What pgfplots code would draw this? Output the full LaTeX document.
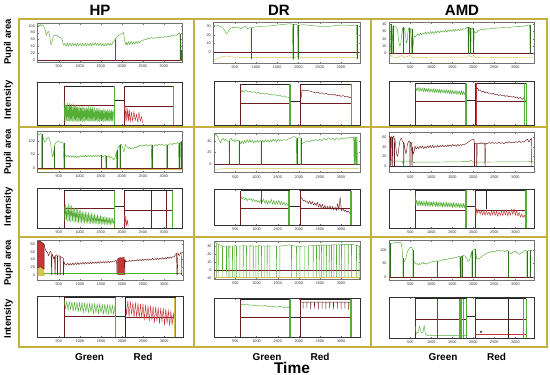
\documentclass[border=0pt]{standalone}
\usepackage{fontspec}
\setmainfont{Liberation Sans}
\usepackage{pgfplots}
\pgfplotsset{compat=1.18}
\definecolor{gold}{RGB}{196,176,64}
\definecolor{lgreen}{RGB}{85,175,55}
\definecolor{dgreen}{RGB}{45,110,25}
\definecolor{dred}{RGB}{110,30,30}
\definecolor{tred}{RGB}{195,55,55}
\definecolor{yel}{RGB}{215,195,80}
\pgfplotsset{
  base/.style={scale only axis, anchor=north west, xmin=0, xmax=3450,
    xtick={500,1000,1500,2000,2500,3000},
    axis line style={draw=black!55, line width=0.5pt},
    tick style={draw=black!55, line width=0.3pt},
    major tick length=1.5pt,
    tick label style={font=\fontsize{3.8}{4}\selectfont, text=black!80},
    /pgf/number format/1000 sep={},
    /pgf/number format/assume math mode=true,
    xticklabel style={yshift=0.8pt},
    yticklabel style={xshift=0.8pt},
    unbounded coords=jump,
    every axis plot/.append style={line width=0.45pt, line join=round}},
  pup/.style={base, width=145pt},
  int/.style={base, width=145pt, ymin=0, ymax=1, ytick=\empty,
    axis line style={draw=black!80, line width=0.6pt}},
  nox/.style={xticklabels={}},
}
\newcommand{\istruct}[8]{%
  \addplot[dred] coordinates {(#1,#7)(#2,#7)};
  \addplot[dred] coordinates {(#3,#8)(#4,#8)};
  \addplot[black!85, line width=0.6pt] coordinates {(#1,#5)(#2,#5)(#2,#6)(#3,#6)(#3,#5)(#4,#5)};
  \addplot[dred, line width=0.55pt] coordinates {(#1,0)(#1,#5)(#1,nan)(#3,0)(#3,#5)};
  \addplot[lgreen, line width=0.55pt] coordinates {(#2,0)(#2,#5)(#2,nan)(#4,0)(#4,#5)};
}
\begin{document}
\begin{tikzpicture}[x=1pt,y=1pt]
\useasboundingbox (0,0) rectangle (550,-375);

% ================= ROW 1 =================
% HP pupil
\begin{axis}[pup, at={(37.7pt,-23pt)}, height=39pt, ymin=-5, ymax=108, ytick={0,20,40,60,80,100}]
\addplot[dred] coordinates {(0,0)(3430,0)};
\addplot[lgreen] coordinates {(0,102)(30,98)(60,104)(90,100)(120,103)(150,97)(180,88)(200,72)(220,76)(250,84)(270,80)(290,66)(310,48)(330,46)(350,58)(370,70)(400,74)(430,71)(460,72)(490,68)(520,67)(550,65)(580,62)(600,50)(620,44)(650,49)(680,41)(710,50)(740,42)(770,50)(800,41)(830,49)(860,42)(890,50)(920,41)(950,49)(980,42)(1010,50)(1040,41)(1070,49)(1100,42)(1130,50)(1160,41)(1190,49)(1220,42)(1250,50)(1280,42)(1310,50)(1340,43)(1370,51)(1400,43)(1430,50)(1460,42)(1490,50)(1520,42)(1550,49)(1580,41)(1610,49)(1640,42)(1670,50)(1700,43)(1730,49)(1760,44)(1790,52)(1820,56)(1845,62)(1850,0)(1855,0)(1860,64)(1890,68)(1930,72)(1970,75)(2010,78)(2040,81)(2055,70)(2070,56)(2090,46)(2110,52)(2130,44)(2160,54)(2190,45)(2220,55)(2250,46)(2280,54)(2310,47)(2340,55)(2370,48)(2400,55)(2430,50)(2460,57)(2500,56)(2540,62)(2580,60)(2620,64)(2660,62)(2700,66)(2740,63)(2780,66)(2820,64)(2860,67)(2900,65)(2940,68)(2980,66)(3020,69)(3060,67)(3100,70)(3140,68)(3180,72)(3220,70)(3260,74)(3300,72)(3340,76)(3370,80)(3385,74)(3390,0)(3400,0)(3405,30)(3410,0)(3420,20)(3425,0)};
\addplot[dgreen] coordinates {(1852,0)(1852,60)(1852,nan)(3390,0)(3390,76)(3390,nan)(3405,0)(3405,30)(3405,nan)(3420,0)(3420,22)};
\end{axis}
% HP intensity
\begin{axis}[int, nox, at={(37.7pt,-82pt)}, height=43pt]
\istruct{623}{1821}{2060}{3234}{0.9}{0.58}{0.47}{0.44}
\addplot[lgreen] coordinates {(628,0.55)(640,0.1)(655,0.5)(668,0.08)(680,0.46)(693,0.1)(705,0.52)(718,0.08)(730,0.44)(743,0.1)(755,0.5)(768,0.08)(780,0.45)(793,0.1)(805,0.48)(818,0.07)(830,0.42)(843,0.1)(855,0.5)(868,0.08)(880,0.44)(893,0.1)(905,0.47)(918,0.08)(930,0.42)(943,0.1)(955,0.46)(968,0.07)(980,0.4)(993,0.1)(1005,0.45)(1018,0.08)(1030,0.4)(1043,0.1)(1055,0.44)(1068,0.07)(1080,0.4)(1093,0.1)(1105,0.43)(1118,0.08)(1130,0.38)(1143,0.1)(1155,0.42)(1168,0.08)(1180,0.38)(1193,0.1)(1205,0.45)(1218,0.08)(1230,0.38)(1243,0.1)(1255,0.42)(1268,0.07)(1280,0.37)(1293,0.1)(1305,0.42)(1318,0.08)(1330,0.36)(1343,0.1)(1355,0.4)(1368,0.07)(1380,0.35)(1393,0.1)(1405,0.4)(1418,0.08)(1430,0.36)(1443,0.1)(1455,0.4)(1468,0.07)(1480,0.35)(1493,0.1)(1505,0.38)(1518,0.08)(1530,0.34)(1543,0.1)(1555,0.38)(1568,0.07)(1580,0.34)(1593,0.1)(1605,0.37)(1618,0.08)(1630,0.33)(1643,0.1)(1655,0.36)(1668,0.07)(1680,0.33)(1693,0.1)(1705,0.36)(1718,0.08)(1730,0.32)(1743,0.1)(1755,0.35)(1768,0.07)(1780,0.32)(1793,0.1)(1805,0.34)};
\addplot[tred] coordinates {(2065,0.5)(2080,0.1)(2100,0.42)(2120,0.08)(2140,0.38)(2160,0.1)(2180,0.35)(2200,0.06)(2230,0.3)(2260,0.08)(2290,0.32)(2320,0.1)(2350,0.25)(2380,0.06)(2410,0.3)(2440,0.08)(2470,0.2)(2500,0.05)};
\end{axis}

% DR pupil
\begin{axis}[pup, width=146.5pt, at={(213.5pt,-22pt)}, height=41pt, ymin=-12, ymax=34.5, ytick={0,10,20,30}]
\addplot[dred] coordinates {(0,0)(3420,0)};
\addplot[yel] coordinates {(0,-9)(100,-7)(200,-5)(300,-4)(400,-5)(600,-5.5)(1000,-6)(1500,-6)(1850,-6)(1880,-4)(1900,-6)(2000,-4)(2050,-6)(2500,-6)(3000,-6)(3420,-6)};
\addplot[lgreen] coordinates {(0,31)(50,30)(100,30.5)(150,29.5)(200,29)(240,27)(270,24)(300,21.5)(330,22)(360,25)(400,27.5)(450,28.5)(500,28)(550,29)(600,28)(650,27)(700,28.5)(750,29.5)(800,27)(850,28)(885,28)(890,-8)(895,-8)(900,28)(950,28.5)(1000,29)(1100,29.5)(1200,29.8)(1300,30)(1400,30.5)(1500,31)(1600,31.5)(1700,32)(1800,32.5)(1860,32)(1870,-8)(1880,-8)(1890,31)(1930,32)(1980,31)(1990,-8)(2000,-8)(2010,31)(2060,31)(2100,31.5)(2200,31)(2300,30.5)(2400,30)(2500,29.5)(2600,29)(2700,29.5)(2800,30)(2900,30.5)(3000,31)(3100,31)(3200,30.5)(3300,30.8)(3370,31)(3380,-8)(3390,-8)};
\addplot[dgreen] coordinates {(890,-8)(890,28)(890,nan)(1868,-8)(1868,32)(1868,nan)(1880,-8)(1880,31)(1880,nan)(1992,-8)(1992,31)(1992,nan)(2004,-8)(2004,31)(2004,nan)(3380,-8)(3380,31)};
\end{axis}
% DR intensity
\begin{axis}[int, nox, width=146pt, at={(214pt,-81pt)}, height=44pt]
\istruct{631}{1796}{2032}{3254}{0.93}{0.55}{0.5}{0.5}
\addplot[lgreen] coordinates {(640,0.8)(660,0.74)(680,0.78)(720,0.76)(760,0.79)(800,0.75)(850,0.77)(900,0.74)(950,0.76)(1000,0.72)(1050,0.74)(1100,0.71)(1150,0.73)(1200,0.7)(1250,0.72)(1300,0.69)(1350,0.7)(1400,0.68)(1450,0.69)(1500,0.66)(1550,0.68)(1600,0.65)(1650,0.66)(1700,0.64)(1750,0.63)(1790,0.6)};
\addplot[dred] coordinates {(2040,0.75)(2060,0.62)(2080,0.8)(2120,0.78)(2200,0.79)(2300,0.76)(2400,0.73)(2450,0.75)(2500,0.72)(2550,0.73)(2600,0.7)(2650,0.72)(2700,0.69)(2750,0.7)(2800,0.68)(2850,0.7)(2900,0.66)(2950,0.68)(3000,0.65)(3050,0.67)(3100,0.64)(3150,0.66)(3200,0.62)(3250,0.64)};
\addplot[lgreen] coordinates {(1775,0)(1775,0.93)(1775,nan)(3235,0)(3235,0.93)};
\end{axis}

% AMD pupil
\begin{axis}[pup, at={(389.3pt,-22pt)}, height=41pt, ymin=-13.5, ymax=43, ytick={0,10,20,30,40}]
\addplot[dred] coordinates {(0,0)(3420,0)};
\addplot[yel] coordinates {(0,-4)(40,-2)(60,-5)(200,-6)(300,-3)(350,-6)(500,-3)(560,-6)(1000,-5.5)(1850,-5.5)(1900,-3)(1950,-5)(2000,-3)(2060,-6)(3420,-5.5)};
\addplot[lgreen] coordinates {(0,40)(20,38)(35,0)(45,0)(50,39)(70,37)(80,0)(90,0)(95,38)(130,37)(160,36)(190,33)(210,24)(230,14)(250,10)(270,12)(290,22)(310,33)(330,36)(335,0)(345,0)(350,35)(370,33)(390,22)(410,14)(425,16)(440,28)(460,35)(477,35)(480,0)(490,0)(495,34)(520,33)(530,0)(540,0)(545,20)(560,6)(575,15)(590,24)(620,22)(650,25)(680,27)(710,24)(740,28)(770,25)(800,28)(830,26)(860,29)(890,26)(920,29)(950,27)(980,30)(1010,27)(1040,30)(1070,27)(1100,30)(1130,28)(1160,31)(1190,28)(1220,31)(1250,29)(1280,31)(1310,29)(1340,32)(1370,29)(1400,32)(1430,30)(1460,32)(1490,30)(1520,33)(1550,30)(1580,33)(1610,31)(1640,33)(1670,31)(1700,34)(1730,32)(1760,34)(1800,33)(1840,35)(1870,36)(1880,0)(1890,0)(1900,36)(1920,35)(1930,0)(1940,0)(1950,34)(1990,35)(2000,0)(2010,0)(2020,30)(2050,28)(2080,29)(2110,31)(2150,32)(2200,33)(2250,32)(2300,34)(2350,33)(2400,34)(2450,34.5)(2500,34)(2550,35)(2600,34.5)(2650,35)(2700,35.5)(2750,35)(2800,36)(2850,35.5)(2900,36)(2950,36.5)(3000,36)(3050,37)(3100,36.5)(3150,37.5)(3200,37)(3250,38)(3300,38.5)(3340,39)(3350,0)(3360,0)};
\addplot[dgreen] coordinates {(40,0)(40,40)(40,nan)(85,0)(85,38)(85,nan)(340,0)(340,36)(340,nan)(485,0)(485,35)(485,nan)(535,0)(535,33)(535,nan)(1885,0)(1885,36)(1885,nan)(1935,0)(1935,35)(1935,nan)(2005,0)(2005,35)(2005,nan)(3355,0)(3355,39)};
\end{axis}
% AMD intensity
\begin{axis}[int, nox, at={(389.3pt,-81pt)}, height=44pt]
\istruct{613}{1825}{2040}{3250}{0.95}{0.57}{0.53}{0.53}
\addplot[lgreen] coordinates {(618,0.87)(640,0.78)(662,0.85)(684,0.77)(706,0.86)(728,0.76)(750,0.84)(772,0.77)(794,0.85)(816,0.75)(838,0.84)(860,0.76)(882,0.83)(904,0.75)(926,0.84)(948,0.74)(970,0.83)(992,0.75)(1014,0.82)(1036,0.74)(1058,0.83)(1080,0.73)(1102,0.82)(1124,0.74)(1146,0.81)(1168,0.73)(1190,0.82)(1212,0.72)(1234,0.81)(1256,0.73)(1278,0.8)(1300,0.72)(1322,0.81)(1344,0.71)(1366,0.8)(1388,0.72)(1410,0.79)(1432,0.71)(1454,0.8)(1476,0.7)(1498,0.79)(1520,0.71)(1542,0.78)(1564,0.7)(1586,0.79)(1608,0.69)(1630,0.78)(1652,0.7)(1674,0.77)(1696,0.69)(1718,0.78)(1740,0.68)(1762,0.77)(1784,0.69)(1806,0.75)(1820,0.7)};
\addplot[dred] coordinates {(2045,0.88)(2070,0.8)(2100,0.84)(2130,0.78)(2160,0.8)(2200,0.75)(2240,0.77)(2280,0.73)(2320,0.75)(2360,0.72)(2400,0.73)(2440,0.7)(2480,0.72)(2520,0.69)(2560,0.7)(2600,0.67)(2640,0.69)(2680,0.66)(2720,0.68)(2760,0.65)(2800,0.67)(2840,0.64)(2880,0.66)(2920,0.63)(2960,0.65)(3000,0.62)(3040,0.64)(3080,0.6)(3120,0.63)(3160,0.58)(3200,0.62)(3240,0.56)};
\addplot[lgreen] coordinates {(1795,0)(1795,0.95)(1795,nan)(3220,0)(3220,0.95)};
\addplot[tred] coordinates {(2060,0)(2060,0.95)};
\end{axis}

% ================= ROW 2 =================
% HP pupil
\begin{axis}[pup, at={(37.7pt,-131.7pt)}, height=40.6pt, ymin=-15, ymax=133, ytick={0,50,100}]
\addplot[yel] coordinates {(0,-5)(3430,-5)};
\addplot[dred] coordinates {(0,0)(3430,0)};
\addplot[lgreen] coordinates {(0,125)(30,122)(60,127)(90,124)(95,0)(100,0)(105,120)(130,112)(160,95)(190,100)(220,108)(250,112)(280,106)(310,90)(330,60)(350,42)(370,50)(390,70)(395,0)(400,0)(405,85)(430,92)(460,96)(490,98)(520,96)(550,94)(580,96)(610,90)(625,0)(630,0)(635,60)(660,45)(690,40)(720,47)(750,40)(780,46)(810,39)(840,46)(870,39)(900,45)(930,38)(960,45)(990,39)(1020,46)(1050,40)(1080,47)(1110,40)(1140,47)(1170,41)(1200,47)(1230,41)(1260,48)(1290,41)(1320,47)(1350,41)(1380,48)(1410,42)(1440,48)(1470,42)(1500,47)(1517,47)(1520,0)(1525,0)(1530,45)(1560,40)(1590,46)(1617,46)(1620,0)(1625,0)(1630,44)(1660,40)(1690,46)(1720,38)(1750,42)(1780,34)(1810,30)(1840,38)(1870,60)(1880,0)(1885,0)(1890,70)(1920,78)(1950,84)(1958,0)(1962,0)(1966,85)(1990,88)(2010,80)(2030,70)(2050,60)(2070,72)(2080,88)(2100,82)(2130,78)(2160,72)(2190,76)(2220,70)(2250,74)(2280,72)(2310,78)(2340,74)(2370,80)(2400,78)(2430,84)(2460,80)(2500,84)(2540,82)(2580,86)(2620,80)(2660,84)(2700,86)(2712,0)(2717,0)(2722,84)(2760,80)(2800,86)(2840,82)(2880,88)(2920,84)(2960,88)(3000,82)(3040,86)(3067,86)(3070,0)(3075,0)(3080,80)(3120,86)(3160,90)(3200,86)(3240,92)(3280,88)(3320,94)(3350,90)(3360,0)(3370,0)(3380,92)(3400,95)(3405,0)};
\addplot[dgreen] coordinates {(97,0)(97,124)(97,nan)(397,0)(397,80)(397,nan)(627,0)(627,90)(627,nan)(1522,0)(1522,47)(1522,nan)(1622,0)(1622,46)(1622,nan)(1882,0)(1882,65)(1882,nan)(1960,0)(1960,85)(1960,nan)(2714,0)(2714,86)(2714,nan)(3072,0)(3072,84)(3072,nan)(3365,0)(3365,90)(3365,nan)(3403,0)(3403,95)};
\end{axis}
% HP intensity
\begin{axis}[int, at={(37.7pt,-188.3pt)}, height=40pt]
\istruct{626}{1823}{2053}{3212}{0.94}{0.54}{0.5}{0.46}
\addplot[lgreen] coordinates {(630,0.56)(648,0.18)(666,0.6)(684,0.2)(702,0.55)(720,0.16)(738,0.62)(756,0.18)(774,0.56)(792,0.15)(810,0.58)(828,0.18)(846,0.5)(864,0.14)(882,0.52)(900,0.16)(918,0.48)(936,0.14)(954,0.5)(972,0.13)(990,0.44)(1008,0.15)(1026,0.46)(1044,0.12)(1062,0.42)(1080,0.14)(1098,0.4)(1116,0.12)(1134,0.42)(1152,0.11)(1170,0.38)(1188,0.13)(1206,0.4)(1224,0.11)(1242,0.36)(1260,0.12)(1278,0.38)(1296,0.1)(1314,0.34)(1332,0.12)(1350,0.36)(1368,0.1)(1386,0.32)(1404,0.12)(1422,0.34)(1440,0.1)(1458,0.3)(1476,0.11)(1494,0.32)(1512,0.09)(1530,0.3)(1548,0.11)(1566,0.28)(1584,0.09)(1602,0.3)(1620,0.1)(1638,0.27)(1656,0.08)(1674,0.28)(1692,0.1)(1710,0.26)(1728,0.08)(1746,0.27)(1764,0.1)(1782,0.25)(1800,0.12)(1818,0.2)};
\addplot[tred] coordinates {(2058,0.35)(2075,0.05)(2095,0.3)(2115,0.06)(2135,0.2)(2155,0.05)};
\addplot[dred, line width=0.55pt] coordinates {(2712,0)(2712,0.94)(2712,nan)(3070,0)(3070,0.94)};
\end{axis}

% DR pupil
\begin{axis}[pup, width=145.7pt, at={(214.3pt,-133.3pt)}, height=39.4pt, ymin=-14, ymax=52.5, ytick={0,20,40}]
\addplot[dred] coordinates {(0,0)(3420,0)};
\addplot[yel] coordinates {(0,-9)(100,-8)(300,-7)(1000,-7)(2000,-7)(3420,-7)};
\addplot[lgreen] coordinates {(0,46)(20,50)(40,52)(60,48)(80,47)(100,44)(120,40)(150,36)(180,42)(210,44)(240,40)(270,43)(300,40)(330,38)(352,38)(355,0)(360,0)(365,42)(400,44)(430,40)(460,42)(490,38)(520,41)(560,40)(587,40)(590,0)(595,0)(600,40)(630,34)(660,40)(690,35)(720,41)(750,36)(780,42)(810,37)(840,42)(870,37)(900,41)(930,36)(960,40)(990,37)(1020,41)(1050,37)(1080,40)(1107,40)(1110,0)(1115,0)(1120,36)(1150,41)(1180,37)(1210,42)(1240,38)(1270,41)(1300,37)(1330,42)(1360,38)(1390,43)(1420,39)(1450,42)(1480,38)(1510,43)(1540,39)(1570,42)(1600,40)(1650,42)(1700,41)(1750,43)(1800,44)(1850,46)(1900,47)(1940,45)(1950,0)(1955,0)(1960,44)(2000,45)(2047,45)(2050,0)(2055,0)(2060,34)(2100,36)(2150,38)(2200,40)(2250,38)(2300,41)(2350,39)(2400,42)(2450,40)(2500,43)(2550,40)(2600,44)(2650,41)(2700,45)(2750,42)(2800,44)(2850,41)(2900,45)(2950,42)(3000,44)(3050,43)(3100,45)(3150,44)(3200,46)(3250,45)(3300,46)(3310,0)(3320,46)(3330,0)(3340,46)(3350,0)(3360,46)(3370,0)(3380,46)(3390,0)};
\addplot[dgreen] coordinates {(357,0)(357,40)(357,nan)(592,0)(592,40)(592,nan)(1112,0)(1112,40)(1112,nan)(1952,0)(1952,45)(1952,nan)(2052,0)(2052,45)};
\end{axis}
% DR intensity
\begin{axis}[int, width=145.7pt, at={(214.3pt,-189.3pt)}, height=35.7pt]
\istruct{626}{1777}{2030}{3240}{0.96}{0.51}{0.47}{0.47}
\addplot[lgreen] coordinates {(630,0.82)(660,0.72)(690,0.78)(720,0.7)(750,0.76)(780,0.68)(810,0.74)(840,0.7)(870,0.75)(900,0.66)(930,0.72)(960,0.65)(990,0.7)(1020,0.64)(1050,0.68)(1080,0.62)(1110,0.76)(1140,0.65)(1170,0.72)(1200,0.6)(1230,0.7)(1260,0.58)(1290,0.68)(1320,0.6)(1350,0.72)(1380,0.58)(1410,0.7)(1440,0.57)(1470,0.68)(1500,0.58)(1530,0.7)(1560,0.56)(1590,0.66)(1620,0.56)(1650,0.64)(1680,0.55)(1710,0.62)(1740,0.54)(1770,0.6)};
\addplot[dred] coordinates {(2035,0.55)(2050,0.78)(2080,0.74)(2110,0.68)(2140,0.7)(2170,0.64)(2200,0.66)(2230,0.6)(2260,0.68)(2290,0.58)(2320,0.66)(2350,0.56)(2380,0.62)(2410,0.54)(2440,0.64)(2470,0.5)(2500,0.6)(2530,0.48)(2560,0.58)(2590,0.46)(2620,0.55)(2650,0.44)(2680,0.52)(2710,0.45)(2740,0.54)(2770,0.44)(2800,0.52)(2830,0.42)(2860,0.5)(2890,0.4)(2920,0.6)(2950,0.42)(2980,0.78)(3010,0.4)(3050,0.45)(3080,0.38)(3110,0.42)(3140,0.36)(3170,0.4)(3200,0.34)(3230,0.3)};
\addplot[dgreen] coordinates {(1110,0.6)(1110,0.96)};
\addplot[lgreen] coordinates {(1760,0)(1760,0.96)(1760,nan)(3225,0)(3225,0.96)};
\end{axis}

% AMD pupil
\begin{axis}[pup, at={(389.3pt,-132.7pt)}, height=40pt, ymin=-14, ymax=69.5, ytick={0,20,40,60}]
\addplot[black!80] coordinates {(0,0)(3420,0)};
\addplot[lgreen] coordinates {(0,15)(40,15)(60,10)(150,10)(300,10)(320,6)(340,10)(400,10)(560,10)(580,6)(600,8)(1000,8)(1800,9)(1900,9)(1950,12)(2000,8)(3420,9)};
\addplot[dred] coordinates {(0,62)(20,60)(30,0)(35,0)(40,62)(60,60)(70,0)(75,0)(80,60)(110,63)(120,0)(125,0)(130,58)(150,45)(170,28)(190,20)(210,25)(230,40)(260,55)(290,58)(320,50)(337,50)(340,0)(345,0)(350,48)(370,38)(390,26)(410,30)(430,45)(460,52)(487,52)(490,0)(495,0)(500,50)(530,48)(540,0)(545,0)(550,40)(570,25)(590,30)(610,42)(640,35)(670,40)(700,36)(730,42)(760,37)(790,42)(820,36)(850,41)(880,37)(910,42)(940,38)(970,43)(1000,38)(1030,43)(1060,38)(1090,42)(1120,39)(1150,43)(1180,39)(1210,43)(1240,40)(1270,44)(1300,40)(1330,43)(1360,40)(1390,44)(1420,41)(1450,44)(1480,41)(1510,45)(1540,42)(1570,44)(1600,41)(1630,45)(1660,42)(1690,45)(1720,43)(1750,45)(1780,44)(1810,46)(1850,48)(1880,50)(1910,52)(1940,54)(1970,55)(2000,56)(2020,55)(2025,0)(2030,0)(2035,48)(2060,47)(2077,47)(2080,0)(2085,0)(2090,46)(2120,48)(2150,46)(2180,49)(2210,46)(2240,48)(2270,47)(2277,0)(2282,0)(2290,48)(2330,46)(2370,49)(2410,47)(2450,50)(2490,47)(2530,49)(2570,47)(2610,50)(2650,47)(2690,49)(2730,46)(2770,50)(2810,48)(2850,51)(2890,48)(2930,50)(2970,48)(3010,51)(3050,49)(3090,52)(3130,49)(3170,51)(3210,50)(3250,54)(3290,56)(3320,50)(3350,54)(3380,58)(3390,0)(3395,0)};
\end{axis}
% AMD intensity
\begin{axis}[int, at={(389.3pt,-189pt)}, height=39pt]
\istruct{611}{1826}{2040}{3254}{0.97}{0.55}{0.45}{0.45}
\addplot[lgreen] coordinates {(615,0.9)(625,0.6)(645,0.72)(665,0.57)(685,0.7)(705,0.56)(725,0.71)(745,0.57)(765,0.69)(785,0.56)(805,0.7)(825,0.57)(845,0.68)(865,0.55)(885,0.7)(905,0.56)(925,0.68)(945,0.55)(965,0.69)(985,0.56)(1005,0.67)(1025,0.55)(1045,0.69)(1065,0.56)(1085,0.67)(1105,0.54)(1125,0.68)(1145,0.55)(1165,0.66)(1185,0.54)(1205,0.68)(1225,0.55)(1245,0.66)(1265,0.53)(1285,0.67)(1305,0.54)(1325,0.65)(1345,0.53)(1365,0.67)(1385,0.54)(1405,0.65)(1425,0.53)(1445,0.66)(1465,0.54)(1485,0.64)(1505,0.52)(1525,0.66)(1545,0.53)(1565,0.64)(1585,0.52)(1605,0.65)(1625,0.53)(1645,0.63)(1665,0.52)(1685,0.64)(1705,0.52)(1725,0.63)(1745,0.51)(1765,0.63)(1785,0.52)(1805,0.62)(1822,0.55)};
\addplot[tred] coordinates {(2045,0.6)(2060,0.3)(2080,0.5)(2100,0.38)(2130,0.48)(2160,0.35)(2190,0.45)(2220,0.33)(2250,0.44)(2280,0.32)(2310,0.46)(2340,0.34)(2370,0.42)(2400,0.31)(2430,0.44)(2460,0.33)(2490,0.45)(2520,0.32)(2550,0.43)(2580,0.3)(2610,0.42)(2640,0.32)(2670,0.44)(2700,0.31)(2730,0.47)(2760,0.33)(2790,0.46)(2820,0.3)(2850,0.44)(2880,0.32)(2910,0.48)(2940,0.34)(2970,0.5)(3000,0.32)(3030,0.46)(3060,0.3)(3090,0.4)(3120,0.28)(3150,0.36)(3180,0.27)(3210,0.33)(3240,0.25)};
\addplot[black!85] coordinates {(2300,0.5)(2300,0.97)};
\addplot[lgreen] coordinates {(1800,0)(1800,0.97)(1800,nan)(3230,0)(3230,0.97)};
\end{axis}

% ================= ROW 3 =================
% HP pupil
\begin{axis}[pup, width=145.6pt, at={(37.7pt,-240.7pt)}, height=39.3pt, ymin=-13, ymax=89, ytick={0,20,40,60,80}]
\addplot[fill=yel, draw=none] coordinates {(0,-2)(0,18)(60,22)(150,15)(165,-2)} -- cycle;
\addplot[fill=tred, draw=dred] coordinates {(0,18)(0,85)(50,88)(100,84)(150,80)(150,15)(60,22)} -- cycle;
\addplot[fill=tred, draw=none] coordinates {(1900,0)(1900,42)(1950,45)(2000,44)(2050,46)(2050,0)} -- cycle;
\addplot[lgreen] coordinates {(150,5)(3430,5)};
\addplot[dred] coordinates {(0,85)(50,88)(100,84)(150,80)(170,70)(200,62)(230,58)(260,50)(280,58)(300,62)(320,58)(330,0)(335,0)(340,55)(360,50)(380,42)(400,48)(410,0)(415,0)(420,50)(440,52)(462,52)(465,0)(470,0)(475,48)(500,50)(527,50)(530,0)(535,0)(540,48)(570,46)(600,44)(607,44)(610,0)(615,0)(620,35)(650,28)(680,26)(710,31)(740,25)(770,30)(800,26)(830,31)(860,26)(890,32)(920,27)(950,32)(980,27)(1010,32)(1040,28)(1070,33)(1100,28)(1130,33)(1160,29)(1190,33)(1220,29)(1250,34)(1280,29)(1310,34)(1340,30)(1370,34)(1400,30)(1430,35)(1460,30)(1490,35)(1520,31)(1550,35)(1580,31)(1610,35)(1640,32)(1670,36)(1700,32)(1730,36)(1760,33)(1790,37)(1820,35)(1850,38)(1870,36)(1880,0)(1885,0)(1890,40)(1900,42)(1950,45)(2000,44)(2050,46)(2060,0)(2065,0)(2070,40)(2090,34)(2120,36)(2150,35)(2180,38)(2210,35)(2240,39)(2270,36)(2300,39)(2330,36)(2360,40)(2390,37)(2420,40)(2450,37)(2480,41)(2510,38)(2540,41)(2570,38)(2600,42)(2630,38)(2660,42)(2690,39)(2720,43)(2750,39)(2780,43)(2810,40)(2840,44)(2870,40)(2900,44)(2930,41)(2960,45)(2990,41)(3020,45)(3050,42)(3080,46)(3110,43)(3140,47)(3170,44)(3200,48)(3230,46)(3260,52)(3290,56)(3300,0)(3310,0)(3320,58)(3350,50)(3380,56)(3400,60)(3410,0)(3420,0)};
\end{axis}
% HP intensity
\begin{axis}[int, width=145.6pt, at={(37.7pt,-296.7pt)}, height=40.6pt]
\istruct{624}{1835}{2070}{3270}{0.975}{0.52}{0.52}{0.49}
\addplot[lgreen] coordinates {(630,0.9)(660,0.7)(690,0.89)(720,0.66)(750,0.88)(780,0.68)(810,0.88)(840,0.64)(870,0.87)(900,0.66)(930,0.87)(960,0.62)(990,0.86)(1020,0.64)(1050,0.86)(1080,0.6)(1110,0.85)(1140,0.62)(1170,0.85)(1200,0.6)(1230,0.84)(1260,0.62)(1290,0.84)(1320,0.58)(1350,0.84)(1380,0.6)(1410,0.83)(1440,0.58)(1470,0.83)(1500,0.6)(1530,0.82)(1560,0.57)(1590,0.82)(1620,0.58)(1650,0.82)(1680,0.56)(1710,0.81)(1740,0.58)(1770,0.8)(1800,0.56)(1830,0.78)};
\addplot[tred] coordinates {(2075,0.92)(2105,0.55)(2135,0.9)(2165,0.5)(2195,0.88)(2225,0.56)(2255,0.86)(2285,0.48)(2315,0.86)(2345,0.5)(2375,0.84)(2405,0.46)(2435,0.82)(2465,0.48)(2495,0.82)(2525,0.42)(2555,0.8)(2585,0.44)(2615,0.78)(2645,0.4)(2675,0.78)(2705,0.42)(2735,0.76)(2765,0.36)(2795,0.75)(2825,0.4)(2855,0.74)(2885,0.34)(2915,0.72)(2945,0.38)(2975,0.72)(3005,0.3)(3035,0.7)(3065,0.34)(3095,0.68)(3125,0.28)(3155,0.66)(3185,0.3)(3215,0.6)(3245,0.25)};
\addplot[black!85] coordinates {(2085,0)(2085,0.975)};
\addplot[yel] coordinates {(3245,0)(3245,0.975)};
\end{axis}

% DR pupil
\begin{axis}[pup, width=145.7pt, at={(214.3pt,-241pt)}, height=38.3pt, ymin=-12, ymax=36.3, ytick={-10,0,10,20,30}]
\addplot[dred] coordinates {(0,0)(3440,0)};
\addplot[yel] coordinates {(0,-9)(3440,-9)};
\addplot[lgreen] coordinates {(0,33)(20,35)(50,34)(53,34)(55,-9)(58,33)(90,32.5)(93,-9)(96,32)(150,31)(191,30)(194,-9)(197,29)(250,30)(286,30)(289,-9)(292,30)(326,30)(329,-9)(332,30)(365,30)(368,-9)(371,30)(429,30)(432,-9)(435,30)(484,30)(487,-9)(490,30.5)(524,30)(527,-9)(530,30)(603,30)(606,-9)(609,30)(682,30)(685,-9)(688,30.5)(761,30)(764,-9)(767,30)(840,30)(843,-9)(846,30.5)(919,30)(922,-9)(925,30)(982,30)(985,-9)(988,30)(1037,30)(1040,-9)(1043,30.5)(1116,30)(1119,-9)(1122,30)(1195,30)(1198,-9)(1201,30)(1250,30)(1253,-9)(1256,30.5)(1313,30)(1316,-9)(1319,30)(1400,30)(1471,30)(1474,-9)(1477,30)(1550,30)(1553,-9)(1556,30)(1650,30.5)(1750,31)(1826,31)(1829,-9)(1832,31)(1900,30)(1945,30)(1948,-9)(1951,30)(2024,29)(2027,-9)(2030,29)(2100,30)(2142,30)(2145,-9)(2148,30)(2221,30)(2224,-9)(2227,30)(2339,30.5)(2342,-9)(2345,30.5)(2418,30.5)(2421,-9)(2424,30.5)(2481,31)(2484,-9)(2487,31)(2537,31)(2540,-9)(2543,31)(2592,31)(2595,-9)(2598,31)(2655,31)(2658,-9)(2661,31)(2718,31)(2721,-9)(2724,31)(2773,31.5)(2776,-9)(2779,31.5)(2828,31.5)(2831,-9)(2834,31.5)(2891,31.5)(2894,-9)(2897,31.5)(2955,31.5)(2958,-9)(2961,31.5)(3010,32)(3013,-9)(3016,32)(3089,32)(3092,-9)(3095,32)(3168,32)(3171,-9)(3174,32)(3247,32)(3250,-9)(3253,32)(3365,31)(3368,-9)(3371,31)(3428,30)(3431,-9)(3434,30)};
\end{axis}
% DR intensity
\begin{axis}[int, width=145.7pt, at={(214.3pt,-298.3pt)}, height=39pt]
\istruct{609}{1793}{2046}{3237}{0.97}{0.51}{0.51}{0.51}
\addplot[lgreen] coordinates {(615,0.86)(650,0.84)(700,0.85)(750,0.83)(800,0.84)(850,0.82)(900,0.83)(950,0.81)(1000,0.82)(1050,0.8)(1100,0.81)(1150,0.8)(1200,0.82)(1250,0.79)(1300,0.8)(1350,0.78)(1400,0.8)(1450,0.78)(1500,0.77)(1550,0.8)(1600,0.78)(1650,0.76)(1700,0.78)(1750,0.76)(1790,0.77)};
\addplot[dred] coordinates {(2050,0.9)(2100,0.9)(2103,0.74)(2106,0.9)(2190,0.9)(2193,0.76)(2196,0.9)(2280,0.9)(2283,0.73)(2286,0.9)(2370,0.9)(2373,0.75)(2376,0.9)(2460,0.9)(2463,0.72)(2466,0.9)(2550,0.9)(2553,0.74)(2556,0.9)(2640,0.9)(2643,0.73)(2646,0.9)(2730,0.9)(2733,0.75)(2736,0.9)(2820,0.9)(2823,0.72)(2826,0.9)(2910,0.9)(2913,0.74)(2916,0.9)(3000,0.9)(3003,0.72)(3006,0.9)(3090,0.9)(3093,0.74)(3096,0.9)(3180,0.9)(3183,0.7)(3186,0.9)(3230,0.9)};
\addplot[lgreen] coordinates {(1770,0)(1770,0.97)(1770,nan)(3215,0)(3215,0.97)};
\end{axis}

% AMD pupil
\begin{axis}[pup, at={(389.3pt,-240pt)}, height=40pt, ymin=-10, ymax=136.6, ytick={0,50,100}]
\addplot[dred] coordinates {(0,0)(3420,0)};
\addplot[lgreen] coordinates {(0,125)(17,0)(20,0)(25,124)(100,126)(200,128)(280,127)(300,110)(320,70)(326,0)(330,0)(335,62)(360,58)(390,66)(420,88)(450,100)(480,106)(510,110)(540,108)(560,100)(563,0)(567,0)(570,65)(600,55)(630,48)(660,50)(690,46)(720,50)(750,47)(780,52)(800,56)(820,50)(850,52)(880,48)(910,51)(940,52)(970,55)(1000,56)(1030,58)(1060,56)(1100,60)(1138,60)(1142,0)(1146,0)(1150,58)(1200,60)(1250,62)(1300,66)(1350,64)(1400,68)(1450,70)(1500,68)(1550,74)(1600,72)(1650,76)(1680,76)(1683,0)(1687,0)(1690,75)(1720,77)(1723,0)(1727,0)(1730,78)(1760,80)(1800,78)(1840,70)(1870,58)(1900,60)(1930,75)(1960,95)(1965,0)(1970,0)(1975,98)(2000,100)(2040,105)(2045,0)(2050,0)(2060,90)(2080,70)(2100,66)(2150,70)(2200,76)(2250,82)(2300,86)(2350,90)(2400,92)(2450,96)(2500,94)(2550,98)(2600,100)(2650,95)(2700,98)(2750,94)(2800,100)(2830,96)(2832,0)(2836,0)(2840,90)(2900,86)(2950,92)(3000,96)(3050,88)(3100,84)(3150,90)(3200,96)(3250,100)(3270,98)(3272,0)(3276,0)(3280,94)(3330,100)(3347,100)(3350,0)(3355,0)(3360,96)(3400,100)};
\addplot[dgreen] coordinates {(18,0)(18,125)(18,nan)(328,0)(328,70)(328,nan)(565,0)(565,100)(565,nan)(1144,0)(1144,60)(1144,nan)(1685,0)(1685,76)(1685,nan)(1725,0)(1725,78)(1725,nan)(1967,0)(1967,98)(1967,nan)(2047,0)(2047,105)(2047,nan)(2834,0)(2834,96)(2834,nan)(3274,0)(3274,98)(3274,nan)(3352,0)(3352,100)};
\end{axis}
% AMD intensity
\begin{axis}[int, at={(389.3pt,-297.7pt)}, height=40.6pt]
\istruct{611}{1826}{2040}{3254}{0.98}{0.55}{0.47}{0.47}
\addplot[lgreen] coordinates {(615,0.3)(640,0.12)(680,0.14)(720,0.3)(760,0.15)(800,0.14)(830,0.32)(860,0.1)(900,0.07)(1000,0.07)(1400,0.07)(1826,0.07)};
\addplot[tred] coordinates {(2040,0.1)(3254,0.1)};
\addplot[dgreen, line width=0.55pt] coordinates {(1142,0)(1142,0.98)};
\addplot[lgreen] coordinates {(1660,0)(1660,0.98)(1660,nan)(1690,0)(1690,0.98)(1690,nan)(1720,0)(1720,0.98)(1720,nan)(1750,0)(1750,0.98)(1750,nan)(3190,0)(3190,0.98)};
\addplot[black!85, line width=0.55pt] coordinates {(2830,0)(2830,0.98)};
\addplot[black, only marks, mark=x, mark size=1pt] coordinates {(2180,0.16)};
\end{axis}

% ================= FRAME & LABELS =================
\draw[gold, line width=1.1pt] (19,-19) rectangle (547,-347);
\draw[gold, line width=1.1pt] (194,-19)--(194,-347) (371,-19)--(371,-347) (19,-127)--(547,-127) (19,-237)--(547,-237);

\node[font=\bfseries\fontsize{15}{15}\selectfont] at (100,-10) {HP};
\node[font=\bfseries\fontsize{15}{15}\selectfont] at (279,-10) {DR};
\node[font=\bfseries\fontsize{15}{15}\selectfont] at (462,-10) {AMD};

\node[rotate=90, font=\bfseries\fontsize{9.5}{10}\selectfont] at (8.5,-42) {Pupil area};
\node[rotate=90, font=\bfseries\fontsize{9.5}{10}\selectfont] at (8.5,-100) {Intensity};
\node[rotate=90, font=\bfseries\fontsize{9.5}{10}\selectfont] at (8.5,-152) {Pupil area};
\node[rotate=90, font=\bfseries\fontsize{9.5}{10}\selectfont] at (8.5,-207) {Intensity};
\node[rotate=90, font=\bfseries\fontsize{9.5}{10}\selectfont] at (8.5,-263) {Pupil area};
\node[rotate=90, font=\bfseries\fontsize{9.5}{10}\selectfont] at (8.5,-319) {Intensity};

\node[font=\bfseries\fontsize{10}{10}\selectfont] at (89.5,-357) {Green};
\node[font=\bfseries\fontsize{10}{10}\selectfont] at (143,-357) {Red};
\node[font=\bfseries\fontsize{10}{10}\selectfont] at (267,-357) {Green};
\node[font=\bfseries\fontsize{10}{10}\selectfont] at (320,-357) {Red};
\node[font=\bfseries\fontsize{10}{10}\selectfont] at (443,-357) {Green};
\node[font=\bfseries\fontsize{10}{10}\selectfont] at (496.5,-357) {Red};
\node[anchor=base, inner sep=0pt, font=\bfseries\fontsize{15.5}{16}\selectfont] at (292,-373) {Time};
\end{tikzpicture}
\end{document}
